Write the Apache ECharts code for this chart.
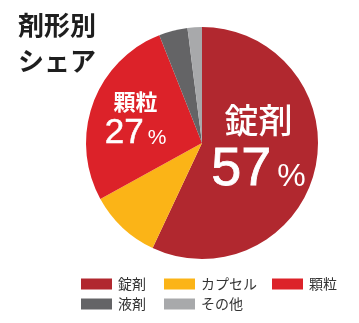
<!DOCTYPE html>
<html>
<head>
<meta charset="utf-8">
<style>
  html, body { margin: 0; padding: 0; background: #fff; }
  #chart { width: 359px; height: 323px; }
</style>
<script src="https://cdn.jsdelivr.net/npm/echarts@6/dist/echarts.min.js"></script>
</head>
<body>
<div id="chart"></div>
<script>
// Dosage-form share (%)
const categories = ['錠剤', 'カプセル', '顆粒', '液剤', 'その他'];
const shares = [57, 10, 27, 4, 2];
const colors = ['#b1282f', '#fbb417', '#dc2229', '#646466', '#a8a9ab'];
const labelled = ['錠剤', '顆粒'];

const CJK = '"Noto Sans CJK JP", "Noto Sans", sans-serif';
const NUM = '"Liberation Sans", Arial, sans-serif';

const chart = echarts.init(document.getElementById('chart'), null, { renderer: 'canvas' });

const bigRich = {
  n: { fontFamily: CJK, fontSize: 34, fontWeight: 500, color: '#fff', lineHeight: 46 },
  v: { fontFamily: NUM, fontSize: 54, color: '#fff', lineHeight: 54, textBorderColor: '#fff', textBorderWidth: 0.8 },
  p: { fontFamily: NUM, fontSize: 32, color: '#fff', lineHeight: 54, verticalAlign: 'bottom', padding: [0, 0, 4, 6] }
};
const smallRich = {
  n: { fontFamily: CJK, fontSize: 22, fontWeight: 'bold', color: '#fff', lineHeight: 28 },
  v: { fontFamily: NUM, fontSize: 35, color: '#fff', lineHeight: 36, textBorderColor: '#fff', textBorderWidth: 0.5 },
  p: { fontFamily: NUM, fontSize: 21, color: '#fff', lineHeight: 36, verticalAlign: 'bottom', padding: [0, 0, 3, 4] }
};

const pieData = categories.map((name, i) => {
  const item = { name, value: shares[i], itemStyle: { color: colors[i] } };
  if (labelled.includes(name)) {
    item.label = {
      show: true,
      position: 'inside',
      formatter: p => `{n|${p.name}}\n{v|${p.value}}{p|%}`,
      rich: i === 0 ? bigRich : smallRich
    };
  } else {
    item.label = { show: false };
  }
  return item;
});

function legendCol(names, left) {
  return {
    data: names,
    orient: 'vertical',
    left: left,
    top: 272,
    itemWidth: 31,
    itemHeight: 11,
    itemGap: 6,
    icon: 'rect',
    selectedMode: false,
    textStyle: { fontFamily: CJK, fontSize: 14, color: '#333', padding: [0, 0, 0, 1] }
  };
}

chart.setOption({
  animation: false,
  title: {
    text: '剤形別\nシェア',
    left: 13,
    top: 2,
    textStyle: { fontFamily: CJK, fontSize: 26, fontWeight: 'bold', color: '#1e1e1e', lineHeight: 36 }
  },
  legend: [
    legendCol(['錠剤', '液剤'], 76),
    legendCol(['カプセル', 'その他'], 159),
    legendCol(['顆粒'], 267)
  ],
  series: [{
    type: 'pie',
    center: [202, 143],
    radius: [0, 116],
    startAngle: 90,
    clockwise: true,
    silent: true,
    itemStyle: { borderWidth: 0 },
    labelLine: { show: false },
    labelLayout: p => {
      if (p.text && p.text.indexOf('錠剤') >= 0) return { dx: -3, dy: -9 };
      if (p.text && p.text.indexOf('顆粒') >= 0) return { dx: -9, dy: -3 };
      return {};
    },
    data: pieData
  }]
});
</script>
</body>
</html>
